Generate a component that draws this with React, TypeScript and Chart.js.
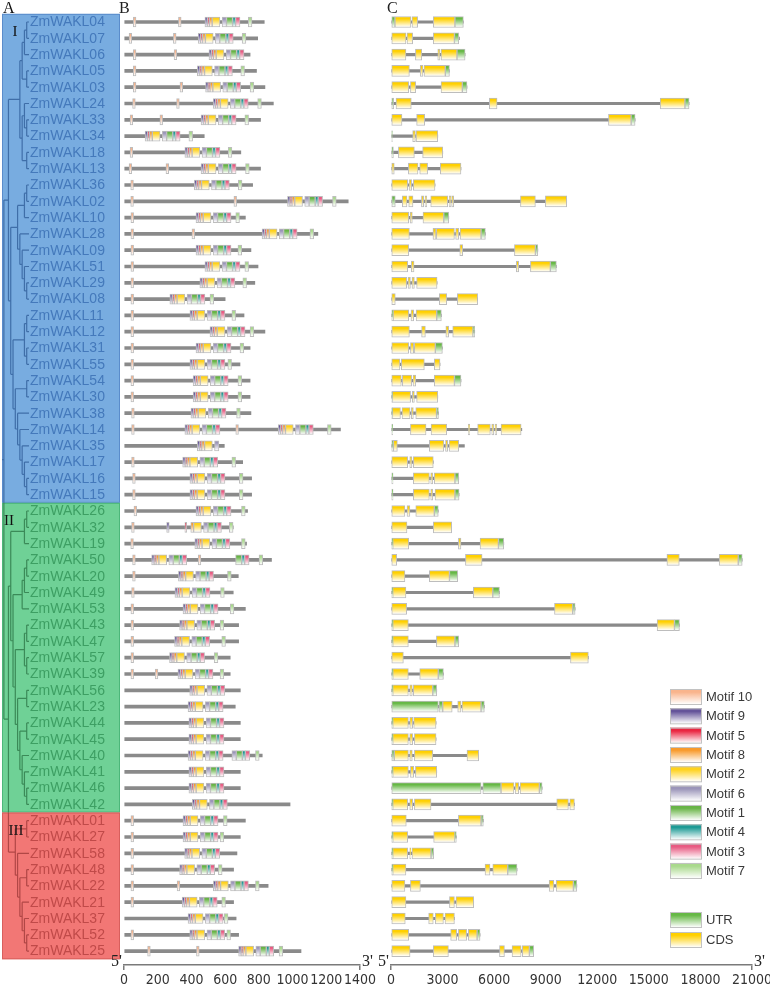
import React, { useEffect, useRef } from "react";
import { Chart, registerables } from "chart.js";
Chart.register(...registerables);

// ---------------- DATA ----------------
const genes = [
  "ZmWAKL04","ZmWAKL07","ZmWAKL06","ZmWAKL05","ZmWAKL03","ZmWAKL24","ZmWAKL33","ZmWAKL34","ZmWAKL18","ZmWAKL13",
  "ZmWAKL36","ZmWAKL02","ZmWAKL10","ZmWAKL28","ZmWAKL09","ZmWAKL51","ZmWAKL29","ZmWAKL08","ZmWAKL11","ZmWAKL12",
  "ZmWAKL31","ZmWAKL55","ZmWAKL54","ZmWAKL30","ZmWAKL38","ZmWAKL14","ZmWAKL35","ZmWAKL17","ZmWAKL16","ZmWAKL15",
  "ZmWAKL26","ZmWAKL32","ZmWAKL19","ZmWAKL50","ZmWAKL20","ZmWAKL49","ZmWAKL53","ZmWAKL43","ZmWAKL47","ZmWAKL57",
  "ZmWAKL39","ZmWAKL56","ZmWAKL23","ZmWAKL44","ZmWAKL45","ZmWAKL40","ZmWAKL41","ZmWAKL46","ZmWAKL42","ZmWAKL01",
  "ZmWAKL27","ZmWAKL58","ZmWAKL48","ZmWAKL22","ZmWAKL21","ZmWAKL37","ZmWAKL52","ZmWAKL25",
];
const groupNames = ["I", "II", "III"];
const groupFirst = [0, 30, 49];
const groupLast = [29, 48, 57];

// phylogeny (names without the ZmWAKL prefix)
const treeGroupI =
  "((((((04,07),06),(05,03)),((24,(33,34)),(18,13))),((((36,02),10),(28,(09,(51,(29,08))))),(((11,12),(31,55)),((54,30),(38,(14,(35,(17,(16,15))))))))))";
const treeGroupII =
  "(((26,32),19),((((50,20),49),53),(((43,47),(57,39)),((56,23),((44,45),(40,(41,(46,42))))))))";
const treeGroupIII = "((01,27),(58,((48,22),(21,(37,(52,25))))))";

// Panel B: protein length (aa) and motif sites
const protLen = [
  832, 793, 748, 786, 836, 886, 810, 476, 693, 810,
  763, 1330, 720, 1150, 753, 795, 776, 600, 712, 836,
  748, 688, 748, 748, 753, 1284, 595, 704, 757, 757,
  733, 648, 727, 875, 678, 648, 720, 680, 680, 630,
  630, 690, 660, 690, 690, 820, 690, 690, 985, 720,
  690, 670, 650, 855, 650, 665, 680, 1050,
];
const motif10Sites = [
  [55, 323], [30, 293], [55, 297], [55], [55, 332], [51, 312], [36, 213], [], [36], [30, 249],
  [40], [40, 652], [41], [41, 403], [41], [41], [41], [41], [41], [41],
  [41], [41], [41], [41], [45], [45, 663], [], [45], [51], [51],
  [59], [45], [40], [51, 440], [51], [45], [41], [41], [41], [41],
  [41, 185], [], [], [], [], [], [], [], [], [41],
  [41], [41], [41], [41, 315], [41], [], [41], [140, 430],
];
// start of the conserved block (motifs 9-5-8-2 / 6-1-4-3)
const clusterSites = [
  [480], [440], [504], [435], [484], [529], [457], [125], [361], [457],
  [417], [970], [427], [819], [427], [480], [450], [272], [391], [510],
  [427], [391], [410], [410], [397], [361, 915], [435], [348], [391], [391],
  [427], [370], [420], [164], [323], [302], [350], [330], [300], [270],
  [320], [390], [380], [385], [385], [380], [385], [385], [405], [350],
  [350], [360], [330], [530], [345], [380], [390], [680],
];
const motif7Sites = [
  [737], [701], [], [693], [748], [793], [717], [385], [618], [721],
  [678], [1237], [663], [1103], [676], [717], [705], [510], [640], [748],
  [688], [616], [676], [676], [668], [1207], [], [640], [684], [684],
  [697], [625], [697], [801], [614], [573], [630], [570], [580], [535],
  [570], [], [], [], [], [], [], [], [], [590],
  [570], [], [560], [780], [580], [595], [610], [920],
];
const extraMotifs: [string, number, number][] = [
  ["ZmWAKL32", 9, 253], ["ZmWAKL32", 5, 361],
  ["ZmWAKL50", 1, 662], ["ZmWAKL50", 4, 698], ["ZmWAKL50", 3, 716],
  ["ZmWAKL40", 6, 640], ["ZmWAKL40", 1, 666], ["ZmWAKL40", 4, 702], ["ZmWAKL40", 3, 720], ["ZmWAKL40", 7, 780],
];
const clusterMissing: [string, number][] = [
  ["ZmWAKL32", 9], ["ZmWAKL32", 5], ["ZmWAKL35", 1], ["ZmWAKL35", 4], ["ZmWAKL35", 3],
];
const motifOrder = [10, 9, 5, 8, 2, 6, 1, 4, 3, 7];
const clusterMotifs = [9, 5, 8, 2, 6, 1, 4, 3];
const clusterOffset: Record<number, number> = { 9: 0, 5: 15, 8: 26, 2: 43, 6: 102, 1: 128, 4: 164, 3: 182 };
const motifWidth: Record<number, number> = { 10: 16, 9: 15, 5: 11, 8: 17, 2: 46, 6: 26, 1: 36, 4: 18, 3: 26, 7: 22 };
const motifColors: Record<number, string> = {
  10: "#f9b48c", 9: "#65549a", 5: "#ea2541", 8: "#f89a2c", 2: "#ffd21c",
  6: "#9b95b9", 1: "#68b446", 4: "#1e9a95", 3: "#e85b82", 7: "#a9d98c",
};

// Panel C: gene length (bp), CDS and UTR segments
const geneLen = [
  4210, 3980, 4310, 3400, 4420, 17340, 14200, 2720, 3010, 4070,
  2560, 10220, 3360, 5490, 8540, 9620, 2680, 5040, 2930, 4870,
  2990, 2850, 4070, 2720, 2760, 7610, 4270, 2460, 3940, 3960,
  2750, 3530, 6560, 20430, 3880, 6310, 10710, 16780, 3940, 11480,
  3050, 2660, 5430, 2620, 2620, 5100, 2660, 8790, 10670, 5370,
  3800, 2480, 7330, 10810, 4810, 3690, 5180, 8300,
];
const cdsExons: number[][][] = [
  [[230, 1160], [1220, 1550], [2460, 3720]],
  [[0, 870], [930, 1260], [2460, 3690]],
  [[0, 870], [1420, 1790], [2720, 2850], [2910, 3840]],
  [[0, 1070], [1700, 1860], [1920, 3160]],
  [[0, 1030], [1130, 1440], [2910, 4150]],
  [[290, 1180], [5720, 6170], [15660, 17100]],
  [[0, 640], [1490, 1960], [12650, 13970]],
  [[1260, 1420], [1460, 2720]],
  [[430, 1360], [1840, 3010]],
  [[0, 190], [1010, 1570], [1670, 2130], [2870, 4070]],
  [[0, 970], [1050, 1200], [1300, 2560]],
  [[660, 930], [1030, 1280], [1770, 1900], [1980, 2080], [2310, 3300], [3380, 3490], [3530, 3650], [7530, 8400], [8980, 10220]],
  [[0, 1030], [1110, 1240], [1860, 3070]],
  [[0, 1070], [2440, 2620], [2640, 3690], [3760, 3940], [4020, 5240]],
  [[0, 1030], [4000, 4170], [7180, 8400]],
  [[0, 970], [1180, 1340], [7290, 7430], [8110, 9270]],
  [[0, 910], [990, 1130], [1220, 1360], [1490, 2680]],
  [[0, 250], [2810, 3240], [3860, 5040]],
  [[120, 1030], [1160, 1320], [1460, 2660]],
  [[0, 1070], [1780, 2000], [3190, 3360], [3590, 4770]],
  [[0, 1030], [1130, 1320], [1360, 2580]],
  [[0, 520], [600, 1940], [2520, 2850]],
  [[0, 600], [660, 1200], [1280, 1440], [2520, 3690]],
  [[80, 1140], [1240, 1360], [1490, 2720]],
  [[80, 550], [640, 1110], [1180, 1300], [1440, 2650]],
  [[1130, 2040], [2330, 3240], [4500, 4580], [5040, 5780], [5860, 5980], [6050, 6150], [6400, 7570]],
  [[140, 370], [2230, 3070], [3170, 3300], [3380, 3940]],
  [[0, 970], [1090, 1220], [1300, 2460]],
  [[1300, 2230], [2310, 2430], [2520, 3720]],
  [[1300, 2230], [2310, 2430], [2560, 3720]],
  [[0, 810], [930, 1100], [1440, 2520]],
  [[0, 930], [2460, 3530]],
  [[100, 1030], [3920, 4070], [5180, 6250]],
  [[0, 330], [4330, 5300], [16050, 16770], [19090, 20200]],
  [[0, 810], [2230, 3400]],
  [[100, 870], [4790, 5920]],
  [[0, 910], [9510, 10570]],
  [[100, 1010], [15480, 16490]],
  [[100, 1010], [2640, 3720]],
  [[0, 720], [10440, 11480]],
  [[100, 1010], [1670, 2750]],
  [[100, 1010], [1090, 1240], [1300, 2430]],
  [[3010, 3560], [3880, 4070], [4130, 5240]],
  [[100, 1010], [1090, 1260], [1320, 2620]],
  [[100, 1010], [1090, 1260], [1360, 2620]],
  [[190, 1010], [1090, 1240], [1360, 2430], [4420, 5100]],
  [[100, 1010], [1130, 1320], [1420, 2660]],
  [[6400, 7150], [7220, 7430], [7510, 8630]],
  [[100, 970], [1090, 1260], [1360, 2330], [9640, 10320], [10400, 10670]],
  [[0, 890], [3920, 5240]],
  [[100, 970], [2480, 3720]],
  [[100, 970], [1090, 1160], [1220, 2330]],
  [[100, 870], [5470, 5760], [5920, 6790]],
  [[0, 810], [1130, 1710], [9200, 9470], [9610, 10610]],
  [[0, 870], [3400, 3690], [3780, 4810]],
  [[0, 830], [2190, 2460], [2580, 3050], [3140, 3690]],
  [[0, 1030], [3470, 3820], [3920, 4400], [4500, 5010]],
  [[0, 1110], [2460, 3340], [6310, 6600], [7040, 7570], [7640, 8050]],
];
const utrExons: number[][][] = [
  [[0, 230], [3720, 4210]], [[3690, 3940]], [[3840, 4310]], [[3160, 3400]], [[4150, 4420]],
  [[0, 160], [17100, 17340]], [[13970, 14200]], [[0, 80]], [[0, 140]], [],
  [], [[0, 250]], [[3070, 3360]], [[5240, 5490]], [[8400, 8540]],
  [[9270, 9620]], [], [], [[0, 120], [2660, 2930]], [[4770, 4870]],
  [[2580, 2990]], [], [[3690, 4070]], [[0, 80]], [[0, 80], [2650, 2760]],
  [[0, 100]], [[0, 140]], [], [[0, 120], [3720, 3940]], [[0, 120], [3720, 3960]],
  [[2520, 2750]], [], [[0, 100], [6250, 6560]], [[20200, 20430]], [[3400, 3880]],
  [[0, 100], [5920, 6310]], [[10570, 10710]], [[0, 100], [16490, 16780]], [[0, 100], [3720, 3940]], [],
  [[0, 100], [2750, 3050]], [[0, 100], [2430, 2660]], [[0, 2750], [2790, 3010], [5240, 5430]], [[0, 100]], [[0, 100]],
  [[0, 190]], [[0, 100]], [[0, 5240], [5340, 6400], [8630, 8790]], [[0, 100]], [[5240, 5370]],
  [[0, 100], [3720, 3800]], [[0, 100], [2330, 2480]], [[0, 100], [6790, 7330]], [[10610, 10810]], [],
  [], [[5010, 5180]], [[8050, 8300]],
];
const bAxisMax = 1400;
const bAxisStep = 200;
const cAxisMax = 21000;
const cAxisStep = 3000;
const legendMotifs = ["Motif 10", "Motif 9", "Motif 5", "Motif 8", "Motif 2", "Motif 6", "Motif 1", "Motif 4", "Motif 3", "Motif 7"];
const legendGene = ["UTR", "CDS"];
const utrColor = "#66b845";
const cdsColor = "#ffd000";

// ---------------- STYLE ----------------
const SANS = "'Liberation Sans', Arial, Helvetica, sans-serif";
const NARROW = "'Liberation Sans Narrow', 'DejaVu Sans Condensed', 'Liberation Sans', sans-serif";
const SERIF = "'Liberation Serif', 'DejaVu Serif', 'Times New Roman', serif";
const ROW_TOP = 22;
const ROW_STEP = 16.3;
const Y_MIN = -ROW_TOP / ROW_STEP;
const PANEL_H = 965;
const bandFill = ["#78ace0", "#6fd196", "#f27775"];
const bandEdge = ["#5a8ccb", "#4cb77a", "#d85f5d"];
const labelColor = ["#4479bb", "#3d9f63", "#c04a49"];
const treeColor = ["#3f6ea8", "#3b8a58", "#b14746"];

function gradFill(color: string, half: number) {
  return (ctx: any) => {
    const chart = ctx.chart;
    const ys = chart && chart.scales && chart.scales.y;
    if (!ys || !ctx.raw || typeof ctx.raw.y !== "number") return color;
    const yc = ys.getPixelForValue(ctx.raw.y);
    if (!Number.isFinite(yc)) return color;
    const g = chart.ctx.createLinearGradient(0, yc - half, 0, yc + half);
    g.addColorStop(0, color);
    g.addColorStop(0.2, color);
    g.addColorStop(0.95, "#ffffff");
    return g;
  };
}

type TNode = { name?: string; children: TNode[]; x?: number; y?: number; h?: number };
function parseNewick(s: string): TNode {
  let i = 0;
  const parse = (): TNode => {
    if (s[i] === "(") {
      i++;
      const children: TNode[] = [parse()];
      while (s[i] === ",") { i++; children.push(parse()); }
      i++;
      return { children };
    }
    let name = "";
    while (i < s.length && !",()".includes(s[i])) name += s[i++];
    return { name: name.trim(), children: [] };
  };
  return parse();
}

function buildTree() {
  const root = parseNewick("(" + treeGroupI + ",(" + treeGroupII + "," + treeGroupIII + "))");
  const height = (n: TNode): number => (n.h = n.children.length ? 1 + Math.max(...n.children.map(height)) : 0);
  height(root);
  const step = 0.93 / (root.h as number);
  const place = (n: TNode) => {
    n.x = 1 - (n.h as number) * step;
    if (!n.children.length) { n.y = genes.indexOf("ZmWAKL" + n.name); return; }
    n.children.forEach(place);
    const ys = n.children.map((c) => c.y as number);
    n.y = (Math.min(...ys) + Math.max(...ys)) / 2;
  };
  place(root);
  const bounds = [groupLast[0] + 0.5, groupLast[1] + 0.5];
  const grp = (y: number) => (y < bounds[0] ? 0 : y < bounds[1] ? 1 : 2);
  const pts: { x: number | null; y: number | null }[][] = [[], [], []];
  const seg = (x1: number, y1: number, x2: number, y2: number) => {
    const g = grp((y1 + y2) / 2);
    pts[g].push({ x: x1, y: y1 }, { x: x2, y: y2 }, { x: null, y: null });
  };
  const walk = (n: TNode) => {
    if (!n.children.length) return;
    const ys = n.children.map((c) => c.y as number);
    let lo = Math.min(...ys);
    const hi = Math.max(...ys);
    const cuts = bounds.filter((b) => b > lo && b < hi);
    [...cuts, hi].forEach((c) => { seg(n.x as number, lo, n.x as number, c); lo = c; });
    n.children.forEach((c) => { seg(n.x as number, c.y as number, c.x as number, c.y as number); walk(c); });
  };
  walk(root);
  seg(0, root.y as number, root.x as number, root.y as number);
  return pts;
}

function axisOptions(max: number, stepSize: number) {
  return {
    type: "linear" as const,
    min: 0,
    max,
    offset: false,
    ticks: {
      stepSize,
      autoSkip: false,
      maxRotation: 0,
      color: "#333",
      padding: 2,
      font: { family: NARROW, size: 14 },
      callback: (v: any) => String(v),
    },
    grid: {
      drawOnChartArea: false,
      tickLength: 5,
      lineWidth: 1.5,
      color: (c: any) => (c.tick && (c.tick.value === 0 || c.tick.value === max) ? "#7a7a7a" : "rgba(0,0,0,0)"),
    },
    border: { display: true, color: "#7a7a7a", width: 1.5 },
    afterFit: (s: any) => { s.height = 991 - PANEL_H; },
  };
}

const panelY = {
  type: "linear" as const,
  min: Y_MIN,
  max: Y_MIN + PANEL_H / ROW_STEP,
  reverse: true,
  display: false,
  offset: false,
  grid: { offset: false },
};

function endLabelsPlugin(letter: string, letterX: number) {
  return {
    id: "endLabels" + letter,
    afterDraw(chart: any) {
      const { ctx, chartArea } = chart;
      ctx.save();
      ctx.fillStyle = "#222";
      ctx.font = "16px " + SERIF;
      ctx.textBaseline = "alphabetic";
      ctx.textAlign = "right";
      ctx.fillText("5'", chartArea.left - 2, chartArea.bottom + 1);
      ctx.textAlign = "left";
      ctx.fillText("3'", chartArea.right + 2, chartArea.bottom + 1);
      ctx.font = "16px " + SERIF;
      ctx.textBaseline = "top";
      ctx.fillText(letter, letterX, 1);
      ctx.restore();
    },
  };
}

export default function App() {
  const treeRef = useRef<HTMLCanvasElement>(null);
  const bRef = useRef<HTMLCanvasElement>(null);
  const cRef = useRef<HTMLCanvasElement>(null);

  useEffect(() => {
    const charts: Chart[] = [];
    // ---------- Tree panel ----------
    const treePts = buildTree();
    const treeChart = new Chart(treeRef.current as HTMLCanvasElement, {
      type: "scatter",
      data: {
        datasets: treePts.map((p, g) => ({
          data: p as any,
          showLine: true,
          spanGaps: false,
          borderColor: treeColor[g],
          borderWidth: 1.2,
          pointRadius: 0,
        })),
      },
      options: {
        responsive: false,
        animation: false,
        devicePixelRatio: 1,
        events: [],
        layout: { padding: 0 },
        plugins: { legend: { display: false }, tooltip: { enabled: false } },
        scales: {
          x: { type: "linear", min: -2 / 27, max: -2 / 27 + 125 / 27, display: false },
          y: { type: "linear", min: Y_MIN, max: Y_MIN + 991 / ROW_STEP, reverse: true, display: false },
        },
      },
      plugins: [
        {
          id: "bands",
          beforeDatasetsDraw(chart: any) {
            const { ctx, scales } = chart;
            ctx.save();
            groupFirst.forEach((f, g) => {
              const top = scales.y.getPixelForValue(f - 0.5);
              const bot = scales.y.getPixelForValue(groupLast[g] + 0.5);
              ctx.fillStyle = bandFill[g];
              ctx.fillRect(2, top, 118, bot - top);
              ctx.strokeStyle = bandEdge[g];
              ctx.lineWidth = 1;
              ctx.strokeRect(2.5, top + 0.5, 117, bot - top - 1);
            });
            ctx.restore();
          },
          afterDatasetsDraw(chart: any) {
            const { ctx, scales } = chart;
            ctx.save();
            ctx.textBaseline = "middle";
            ctx.font = "14px " + SANS;
            genes.forEach((name, i) => {
              const g = i <= groupLast[0] ? 0 : i <= groupLast[1] ? 1 : 2;
              ctx.fillStyle = labelColor[g];
              ctx.fillText(name, scales.x.getPixelForValue(1) + 1, scales.y.getPixelForValue(i) + 0.5);
            });
            ctx.fillStyle = "#111";
            ctx.font = "15px " + SERIF;
            ctx.textAlign = "center";
            const gx = [15, 9, 16];
            groupNames.forEach((n, g) => {
              ctx.fillText(n, gx[g], scales.y.getPixelForValue(groupFirst[g]) + 10);
            });
            ctx.textAlign = "left";
            ctx.textBaseline = "top";
            ctx.font = "16px " + SERIF;
            ctx.fillText("A", 3, 1);
            ctx.restore();
          },
        },
      ],
    });
    charts.push(treeChart);

    // ---------- Panel B: motifs ----------
    const motifRects: Record<number, { y: number; x: [number, number] }[]> = {};
    motifOrder.forEach((m) => (motifRects[m] = []));
    genes.forEach((g, i) => {
      motif10Sites[i].forEach((s) => motifRects[10].push({ y: i, x: [s, s + motifWidth[10]] }));
      clusterSites[i].forEach((s) => {
        clusterMotifs.forEach((m) => {
          if (clusterMissing.some(([gn, mm]) => gn === g && mm === m)) return;
          const st = s + clusterOffset[m];
          motifRects[m].push({ y: i, x: [st, st + motifWidth[m]] });
        });
      });
      motif7Sites[i].forEach((s) => motifRects[7].push({ y: i, x: [s, s + motifWidth[7]] }));
    });
    extraMotifs.forEach(([gn, m, s]) => motifRects[m].push({ y: genes.indexOf(gn), x: [s, s + motifWidth[m]] }));

    const bChart = new Chart(bRef.current as HTMLCanvasElement, {
      type: "bar",
      data: {
        datasets: [
          {
            label: "protein",
            data: protLen.map((L, i) => ({ y: i, x: [0, L] })) as any,
            backgroundColor: "#8a8a8a",
            barThickness: 3,
            grouped: false,
            order: 5,
            borderWidth: 0,
          } as any,
          ...motifOrder.map((m) => ({
            label: "Motif " + m,
            data: motifRects[m] as any,
            backgroundColor: gradFill(motifColors[m], 5),
            borderColor: "#bdbdbd",
            borderWidth: 1,
            borderSkipped: false,
            barThickness: 10,
            grouped: false,
            order: 1,
          })),
        ],
      },
      options: {
        indexAxis: "y",
        responsive: false,
        animation: false,
        devicePixelRatio: 1,
        events: [],
        layout: { padding: { left: 24, right: 20, top: 0, bottom: 0 } },
        plugins: { legend: { display: false }, tooltip: { enabled: false } },
        scales: {
          x: axisOptions(bAxisMax, bAxisStep) as any,
          y: panelY as any,
        },
      },
      plugins: [endLabelsPlugin("B", 19)],
    });
    charts.push(bChart);

    // ---------- Panel C: gene structure ----------
    const cdsData: any[] = [];
    const utrData: any[] = [];
    genes.forEach((_, i) => {
      cdsExons[i].forEach((e) => cdsData.push({ y: i, x: [e[0], e[1]] }));
      utrExons[i].forEach((e) => utrData.push({ y: i, x: [e[0], e[1]] }));
    });
    const cChart = new Chart(cRef.current as HTMLCanvasElement, {
      type: "bar",
      data: {
        datasets: [
          {
            label: "gene",
            data: geneLen.map((L, i) => ({ y: i, x: [0, L] })) as any,
            backgroundColor: "#8a8a8a",
            barThickness: 2.5,
            grouped: false,
            order: 5,
            borderWidth: 0,
          } as any,
          {
            label: "UTR",
            data: utrData,
            backgroundColor: gradFill(utrColor, 5.5),
            borderColor: "#bdbdbd",
            borderWidth: 1,
            borderSkipped: false,
            barThickness: 11,
            grouped: false,
            order: 1,
          } as any,
          {
            label: "CDS",
            data: cdsData,
            backgroundColor: gradFill(cdsColor, 5.5),
            borderColor: "#bdbdbd",
            borderWidth: 1,
            borderSkipped: false,
            barThickness: 11,
            grouped: false,
            order: 1,
          } as any,
        ],
      },
      options: {
        indexAxis: "y",
        responsive: false,
        animation: false,
        devicePixelRatio: 1,
        events: [],
        layout: { padding: { left: 16, right: 23, top: 0, bottom: 0 } },
        plugins: { legend: { display: false }, tooltip: { enabled: false } },
        scales: {
          x: axisOptions(cAxisMax, cAxisStep) as any,
          y: panelY as any,
        },
      },
      plugins: [
        endLabelsPlugin("C", 12),
        {
          id: "legendBoxes",
          afterDraw(chart: any) {
            const { ctx } = chart;
            const bx = 295, bw = 32, bh = 16;
            const sw = (cy: number, color: string, text: string) => {
              const top = cy - bh / 2;
              const g = ctx.createLinearGradient(0, top, 0, top + bh);
              g.addColorStop(0, color);
              g.addColorStop(0.2, color);
              g.addColorStop(0.95, "#ffffff");
              ctx.fillStyle = g;
              ctx.fillRect(bx, top, bw, bh);
              ctx.strokeStyle = "#c2c2c2";
              ctx.lineWidth = 1;
              ctx.strokeRect(bx + 0.5, top + 0.5, bw - 1, bh - 1);
              ctx.fillStyle = "#3a3a3a";
              ctx.font = "13px " + SANS;
              ctx.textBaseline = "middle";
              ctx.textAlign = "left";
              ctx.fillText(text, bx + bw + 4, cy + 0.5);
            };
            ctx.save();
            legendMotifs.forEach((t, k) => sw(697 + 19.33 * k, motifColors[motifOrder[k]], t));
            sw(920, utrColor, legendGene[0]);
            sw(940, cdsColor, legendGene[1]);
            ctx.restore();
          },
        },
      ],
    });
    charts.push(cChart);

    return () => charts.forEach((c) => c.destroy());
  }, []);

  return (
    <div style={{ position: "absolute", left: 0, top: 0, width: 770, height: 991, overflow: "hidden", background: "#fff" }}>
      <canvas ref={treeRef} width={125} height={991} style={{ position: "absolute", left: 0, top: 0 }} />
      <canvas ref={bRef} width={280} height={991} style={{ position: "absolute", left: 100, top: 0 }} />
      <canvas ref={cRef} width={400} height={991} style={{ position: "absolute", left: 375, top: 0 }} />
    </div>
  );
}
